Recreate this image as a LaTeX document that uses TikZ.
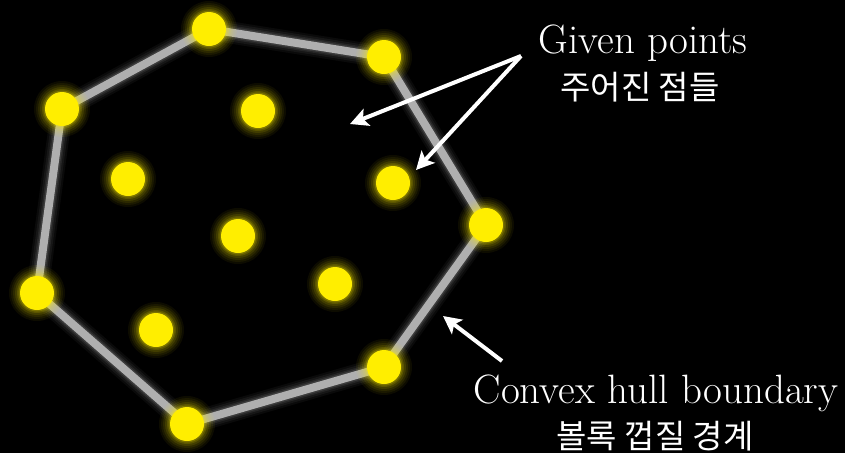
\documentclass[tikz,border=0pt]{standalone}
\usepackage{fontspec}
\newfontfamily\kr{Noto Sans CJK KR}
\usetikzlibrary{arrows.meta}
\definecolor{dotyellow}{RGB}{255,238,0}
\definecolor{hullgray}{RGB}{175,175,175}
\tikzset{
  dot/.style={circle,fill=dotyellow,minimum size=34pt,inner sep=0pt},
  hull/.style={draw=hullgray,line width=8pt,line join=round,line cap=round},
  pointer/.style={draw=white,line width=4pt,-{Stealth[length=18pt,width=18pt,inset=4pt]}},
  lbl/.style={text=white,font=\fontsize{41}{46}\selectfont,inner sep=0pt},
  krlbl/.style={text=white,font=\kr\fontsize{33}{38}\selectfont,inner sep=0pt}
}
\begin{document}
\begin{tikzpicture}[x=1pt,y=-1pt]
\fill[black] (0,0) rectangle (845,453);
\useasboundingbox (0,0) rectangle (845,453);
% positions
\coordinate (pA) at (209,29);
\coordinate (pB) at (384,57);
\coordinate (pC) at (486,225);
\coordinate (pD) at (384,367);
\coordinate (pE) at (187,424);
\coordinate (pF) at (37,293);
\coordinate (pG) at (62,109);
\coordinate (q1) at (258,111);
\coordinate (q2) at (128,179);
\coordinate (q3) at (393,183);
\coordinate (q4) at (238,236);
\coordinate (q5) at (335,284);
\coordinate (q6) at (156,330);
% hull glow
\foreach \w/\o in {22/0.04,18/0.05,14/0.07,11/0.10}{
  \draw[white,opacity=\o,line width=\w pt,line join=round] (pA)--(pB)--(pC)--(pD)--(pE)--(pF)--(pG)--cycle;
}
\draw[hull] (pA)--(pB)--(pC)--(pD)--(pE)--(pF)--(pG)--cycle;
% dot glow
\foreach \p in {pA,pB,pC,pD,pE,pF,pG,q1,q2,q3,q4,q5,q6}{
  \foreach \r/\o in {28/0.05,26/0.06,24/0.08,22/0.10,20/0.14,18.5/0.2}{
    \fill[dotyellow,opacity=\o] (\p) circle (\r pt);
  }
}
% dots
\foreach \p in {pA,pB,pC,pD,pE,pF,pG,q1,q2,q3,q4,q5,q6}{
  \node[dot] (d\p) at (\p) {};
}
% labels
\node[lbl] (given) at (643,43) {Given points};
\node[krlbl] (givenkr) at (640,87) {주어진 점들};
\node[lbl] (conv) at (656,393) {Convex hull boundary};
\node[krlbl] (convkr) at (655,436) {볼록 껍질 경계};
% arrows
\coordinate (gs) at (521,56);
\coordinate (g1) at (350,124);
\coordinate (g2) at (416,170);
\coordinate (cs) at (502,361);
\coordinate (c1) at (443,316);
\draw[pointer] (gs) -- (g1);
\draw[pointer] (gs) -- (g2);
\draw[pointer] (cs) -- (c1);
\end{tikzpicture}
\end{document}
